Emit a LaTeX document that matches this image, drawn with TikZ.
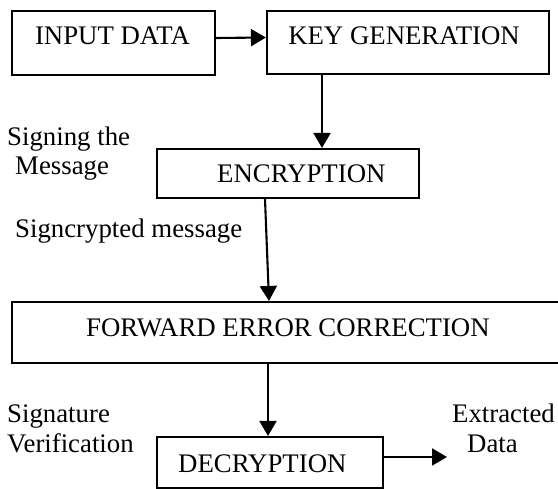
\documentclass[tikz,border=0pt]{standalone}
\usepackage{fontspec}
\setmainfont{Liberation Serif}
\usetikzlibrary{arrows.meta}
\begin{document}
\begin{tikzpicture}[x=1pt,y=-1pt,
  box/.style={draw, line width=2.1pt, inner sep=0pt},
  lbl/.style={inner sep=0pt, font=\fontsize{26.8}{30}\selectfont},
  arr/.style={line width=2.1pt, -{Triangle[length=15pt,width=17pt]}}]
\useasboundingbox[fill=white] (0,0) rectangle (558,489);
% boxes
\node[box, minimum width=203pt, minimum height=64pt] (in) at (113.5,43) {};
\node[box, minimum width=282pt, minimum height=63pt] (key) at (408,42.5) {};
\node[box, minimum width=262pt, minimum height=49pt] (enc) at (288,173.5) {};
\node[box, minimum width=588pt, minimum height=61pt] (fec) at (306,332.5) {};
\node[box, minimum width=226pt, minimum height=51pt] (dec) at (270,462.5) {};
% box texts
\node[lbl, anchor=base] (tin) at (112.5,45) {INPUT DATA};
\node[lbl, anchor=base] (tkey) at (404,45) {KEY GENERATION};
\node[lbl, anchor=base west] (tenc) at (217,183) {ENCRYPTION};
\node[lbl, anchor=base west] (tfec) at (86,337) {FORWARD ERROR CORRECTION};
\node[lbl, anchor=base west] (tdec) at (178,473) {DECRYPTION};
% side labels
\node[lbl, anchor=base west] (l1) at (7,146) {Signing the};
\node[lbl, anchor=base west] (l2) at (15,175) {Message};
\node[lbl, anchor=base west] (l3) at (15,238) {Signcrypted message};
\node[lbl, anchor=base west] (l4) at (7,423) {Signature};
\node[lbl, anchor=base west] (l5) at (7,453) {Verification};
\node[lbl, anchor=base west] (l6) at (452,423) {Extracted};
\node[lbl, anchor=base west] (l7) at (467,453) {Data};
% connectors
\coordinate (outend) at (447,457);
\draw[arr] ([yshift=5pt]in.east) -- ([yshift=5pt]key.west);
\draw[arr] ([xshift=-86pt]key.south) -- ([xshift=34pt]enc.north);
\draw[arr] ([xshift=-23pt]enc.south) -- ([xshift=-37pt]fec.north);
\draw[arr] ([xshift=-38pt]fec.south) -- ([xshift=-2pt]dec.north);
\draw[arr] ([yshift=5.5pt]dec.east) -- (outend);
\end{tikzpicture}
\end{document}
